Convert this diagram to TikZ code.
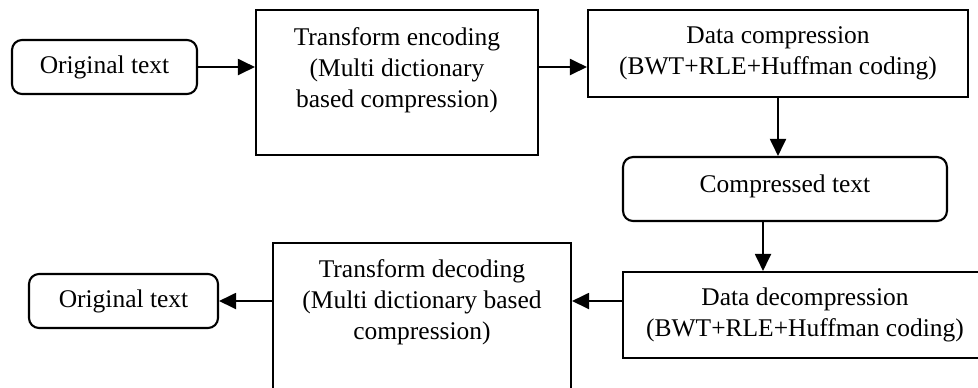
\documentclass[tikz,border=0pt]{standalone}
\usepackage{fontspec}
\setmainfont{Liberation Serif}
\usetikzlibrary{arrows.meta}
\tikzset{ proc_box/.style = {rectangle, draw, line width=1.2pt, align=center, inner sep=0pt} }
\tikzset{ text_box/.style = {proc_box, rounded corners=0.2cm} }
\tikzset{ top_text/.style = {anchor=north, align=center, inner sep=0pt, yshift=-0.37cm} }
\tikzset{ flow/.style = {line width=1.1pt, -{Triangle[length=0.34cm,width=0.32cm]}} }

\begin{document}
\begin{tikzpicture}[x=0.02cm,y=-0.02cm,font=\fontsize{14.5}{17.6}\selectfont]
            \clip (0,0) rectangle (978,387);
            % coding chain
            \node [style=text_box, minimum width=3.7cm, minimum height=1.08cm] (orig_in) at (104.5,67) {Original text};
            \node [style=proc_box, minimum width=5.64cm, minimum height=2.9cm,
                   label={[top_text]north:{Transform encoding\\(Multi dictionary\\based compression)}}] (enc) at (397,82.5) {};
            \node [style=proc_box, minimum width=7.6cm, minimum height=1.74cm] (comp) at (778,53.5) {Data compression\\(BWT+RLE+Huffman coding)};
            \node [style=text_box, minimum width=6.48cm, minimum height=1.28cm, text depth=0.2cm] (ctext) at (785,189) {Compressed text};
            % decoding chain
            \node [style=proc_box, minimum width=7.28cm, minimum height=1.72cm] (decomp) at (805,315) {Data decompression\\(BWT+RLE+Huffman coding)};
            \node [style=proc_box, minimum width=5.96cm, minimum height=3.1cm,
                   label={[top_text, yshift=0.02cm]north:{Transform decoding\\(Multi dictionary based\\compression)}}] (dec) at (422,320.5) {};
            \node [style=text_box, minimum width=3.78cm, minimum height=1.08cm] (orig_out) at (123.5,301) {Original text};
            \draw [flow] (orig_in) -- (orig_in -| enc.west);
            \draw [flow] (enc.east |- orig_in) -- (comp.west |- orig_in);
            \draw [flow] (comp) -- (comp.south |- ctext.north);
            \draw [flow] ([xshift=-0.44cm]ctext.south) -- ([xshift=-0.44cm]ctext.south |- decomp.north);
            \draw [flow] (decomp.west |- orig_out) -- (dec.east |- orig_out);
            \draw [flow] (dec.west |- orig_out) -- (orig_out);
\end{tikzpicture}
\end{document}
